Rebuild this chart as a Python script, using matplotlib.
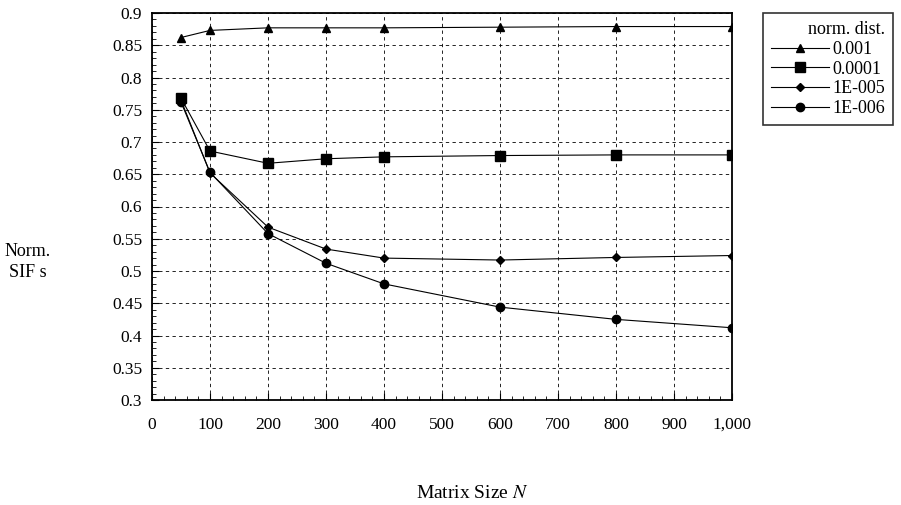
import numpy as np
import matplotlib
matplotlib.use('Agg')
import matplotlib.pyplot as plt
from matplotlib.ticker import MultipleLocator, FuncFormatter

plt.rcParams['font.family'] = 'Liberation Serif'
plt.rcParams['mathtext.fontset'] = 'stix'
plt.rcParams['font.size'] = 12.5

# matrix sizes
matrix_n = [50, 100, 200, 300, 400, 600, 800, 1000]

# normalised SIFs for each normalised distance
sif_1e3 = [0.862, 0.873, 0.877, 0.877, 0.877, 0.878, 0.879, 0.879]
sif_1e4 = [0.768, 0.686, 0.667, 0.674, 0.677, 0.679, 0.680, 0.680]
sif_1e5 = [0.765, 0.652, 0.568, 0.534, 0.520, 0.517, 0.521, 0.524]
sif_1e6 = [0.762, 0.653, 0.558, 0.512, 0.480, 0.444, 0.425, 0.412]

labels = ['0.001', '0.0001', '1E-005', '1E-006']

fig = plt.figure(figsize=(9.01, 5.05), dpi=100)
ax = fig.add_axes([152/901, 1-400/505, (732-152)/901, (400-13)/505])

ax.plot(matrix_n, sif_1e3, color='k', lw=0.8, marker='^', ms=6, label=labels[0])
ax.plot(matrix_n, sif_1e4, color='k', lw=0.8, marker='s', ms=7, label=labels[1])
ax.plot(matrix_n, sif_1e5, color='k', lw=0.8, marker='D', ms=4.5, label=labels[2])
ax.plot(matrix_n, sif_1e6, color='k', lw=0.8, marker='o', ms=6, label=labels[3])

ax.set_xlim(0, 1000)
ax.set_ylim(0.3, 0.9)
ax.xaxis.set_major_locator(MultipleLocator(100))
ax.xaxis.set_minor_locator(MultipleLocator(20))
ax.yaxis.set_major_locator(MultipleLocator(0.05))
ax.yaxis.set_minor_locator(MultipleLocator(0.01))
ax.xaxis.set_major_formatter(FuncFormatter(lambda v, p: '{:,}'.format(int(round(v)))))
ax.yaxis.set_major_formatter(FuncFormatter(lambda v, p: '{:g}'.format(round(v, 2))))
ax.tick_params(which='both', direction='in', colors='k', labelsize=12.5)
ax.tick_params(which='major', length=5, width=0.8)
ax.tick_params(which='minor', length=3, width=0.6)
ax.tick_params(axis='y', which='major', pad=7)
ax.tick_params(axis='x', which='major', pad=12)
ax.grid(True, which='major', color='k', ls=(0, (4, 4)), lw=0.6)
for s in ax.spines.values():
    s.set_linewidth(1.3)

leg = ax.legend(title='norm. dist.', loc='upper left', bbox_to_anchor=(763/901, 1-13/505),
                bbox_transform=fig.transFigure, frameon=True, fancybox=False,
                edgecolor='k', fontsize=13, title_fontsize=13, handlelength=3.2,
                borderaxespad=0, labelspacing=0.15, borderpad=0.45, handletextpad=0.2)
leg.get_frame().set_linewidth(1.2)
leg._legend_box.align = 'right'

fig.text(28/901, 1-262/505, 'Norm.\nSIF s', ha='center', va='center', fontsize=13, linespacing=1.35)
fig.text(472/901, 1-493/505, 'Matrix Size $N$', ha='center', va='center', fontsize=14)

plt.savefig('out.png', dpi=100)
